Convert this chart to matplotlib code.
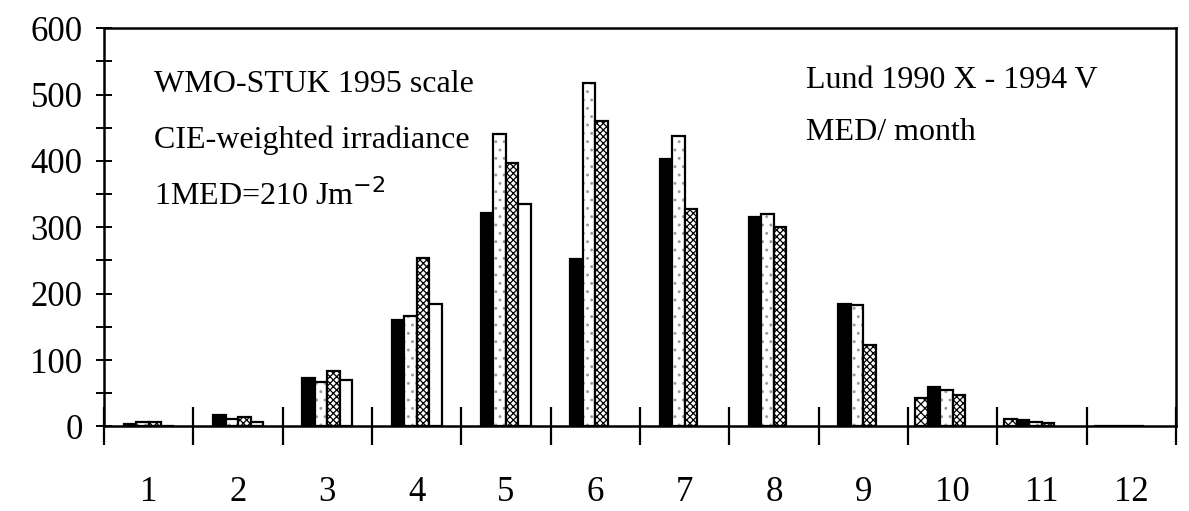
import numpy as np
import matplotlib
matplotlib.use("Agg")
import matplotlib.pyplot as plt
from matplotlib.ticker import MultipleLocator

plt.rcParams['font.family'] = ['Liberation Serif', 'DejaVu Serif']
plt.rcParams['hatch.linewidth'] = 0.9

# monthly CIE-weighted doses, MED/month, Lund Oct 1990 - May 1994
months = np.arange(1, 13)
month_labels = [str(m) for m in months]
nan = np.nan
y1990 = [nan, nan, nan, nan, nan, nan, nan, nan, nan, 43, 12, 1]
y1991 = [4, 17, 73, 161, 322, 252, 403, 315, 184, 60, 10, 1]
y1992 = [7, 11, 67, 166, 441, 518, 437, 320, 183, 55, 6, 1]
y1993 = [6, 15, 84, 253, 397, 460, 328, 301, 123, 48, 5, 1]
y1994 = [1, 6, 70, 185, 335, nan, nan, nan, nan, nan, nan, nan]

fig = plt.figure(figsize=(11.89, 5.11), dpi=100)
ax = fig.add_axes([0.0875, 0.1654, 0.9015, 0.7796])

w = 0.14
lw = 1.6

def slot(j):
    # slot 0 = 1990 ... slot 4 = 1994, left edges
    return months + (j - 3) * w

ax.bar(slot(0), y1990, w, align='edge', facecolor='white', edgecolor='black',
       hatch='xxxx', linewidth=lw)
ax.bar(slot(1), y1991, w, align='edge', facecolor='black', edgecolor='black',
       linewidth=lw)
ax.bar(slot(2), y1992, w, align='edge', facecolor='white', edgecolor='#9a9a9a',
       hatch='..', linewidth=0)
ax.bar(slot(2), y1992, w, align='edge', fill=False, edgecolor='black',
       linewidth=lw)
ax.bar(slot(3), y1993, w, align='edge', facecolor='white', edgecolor='black',
       hatch='xxxxx', linewidth=lw)
ax.bar(slot(4), y1994, w, align='edge', facecolor='white', edgecolor='black',
       linewidth=lw)

ax.set_xlim(0.5, 12.5)
ax.set_ylim(0, 600)

# boundary ticks between months, labels at month centres
ax.set_xticks(np.arange(0.5, 13, 1))
ax.set_xticklabels([])
ax.set_xticks(months, minor=True)
ax.set_xticklabels(month_labels, minor=True)
ax.tick_params(axis='x', which='major', direction='inout', length=28, width=1.6)
ax.tick_params(axis='x', which='minor', length=0, pad=36, labelsize=25)

ax.yaxis.set_major_locator(MultipleLocator(100))
ax.yaxis.set_minor_locator(MultipleLocator(50))
ax.tick_params(axis='y', which='both', direction='inout', length=11, width=1.4,
               labelsize=25, pad=10)

for s in ax.spines.values():
    s.set_linewidth(1.8)

ax.text(0.047, 0.84, 'WMO-STUK 1995 scale', transform=ax.transAxes, fontsize=23)
ax.text(0.047, 0.70, 'CIE-weighted irradiance', transform=ax.transAxes, fontsize=23)
ax.text(0.047, 0.555, '1MED=210 Jm$^{-2}$', transform=ax.transAxes, fontsize=23)
ax.text(0.655, 0.85, 'Lund 1990 X - 1994 V', transform=ax.transAxes, fontsize=23)
ax.text(0.655, 0.72, 'MED/ month', transform=ax.transAxes, fontsize=23)

fig.savefig('out.png', dpi=100)
